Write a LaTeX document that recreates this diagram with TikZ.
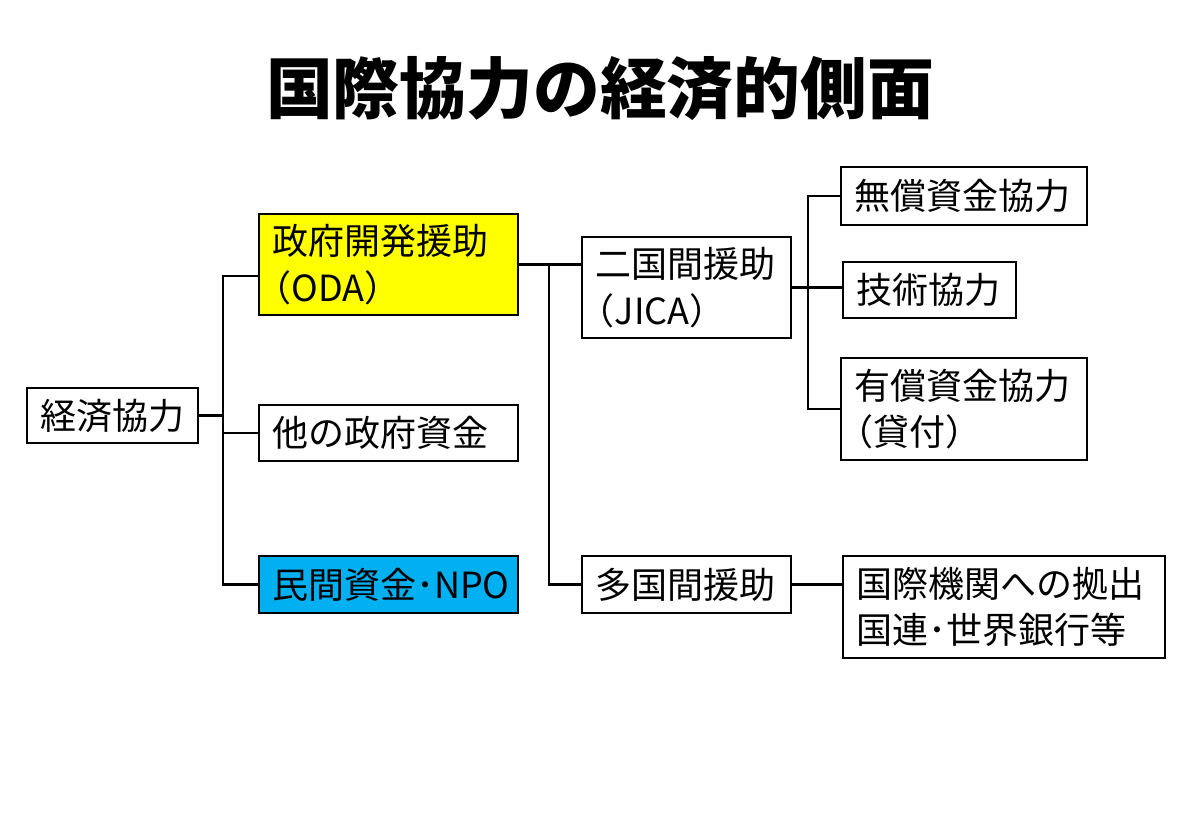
\documentclass[tikz,border=0pt]{standalone}
\usepackage{fontspec}
\setmainfont{Noto Sans CJK JP}
\usetikzlibrary{calc}
\definecolor{odayellow}{HTML}{FFFF00}
\definecolor{npoblue}{HTML}{00B0F0}
\newcommand{\lparen}{\hspace*{-0.45em}（}

\begin{document}
\begin{tikzpicture}
  [x=0.02cm,y=-0.02cm,line width=1.5pt,
   every node/.style={draw,rectangle,line width=1.5pt,inner xsep=0.26cm,inner ysep=0pt,align=left,
     font=\fontsize{20.5}{26.5}\selectfont}]

  \useasboundingbox (0,0) rectangle (1200,831);

  \node[draw=none,font=\fontsize{38}{40}\selectfont\bfseries] (title) at (600,88) {国際協力の経済的側面};

  \node[text width=2.90cm,minimum height=1.10cm] (ekon) at (112.5,415.5) {経済協力};

  \node[fill=odayellow,text width=4.66cm,minimum height=2.02cm] (oda) at (388.5,264.5) {政府開発援助\\\lparen ODA）};
  \node[text width=4.66cm,minimum height=1.12cm] (other) at (388.5,433) {他の政府資金};
  \node[fill=npoblue,text width=4.66cm,minimum height=1.14cm] (priv) at (388.5,584.5) {民間資金･NPO};

  \node[text width=3.66cm,minimum height=2.02cm] (bi) at (686.5,287.5) {二国間援助\\\lparen JICA）};
  \node[text width=3.66cm,minimum height=1.14cm] (multi) at (686.5,584.5) {多国間援助};

  \node[text width=4.40cm,minimum height=1.16cm] (grant) at (964,196) {無償資金協力};
  \node[text width=2.94cm,minimum height=1.12cm] (tech) at (929.5,290) {技術協力};
  \node[text width=4.40cm,minimum height=2.04cm] (loan) at (964,409) {有償資金協力\\\lparen 貸付）};
  \node[text width=5.92cm,minimum height=2.04cm] (intl) at (1004,607) {国際機関への拠出\\国連･世界銀行等};

  \coordinate (b1) at (223,415.5);
  \coordinate (b2) at (549,264.5);
  \coordinate (b3) at (808,287.5);

  % 経済協力 branches
  \draw (ekon.east) -- (b1);
  \draw ($(oda.west)+(0,11.5)$) -| (b1) |- (priv.west);
  \draw (b1 |- other.west) -- (other.west);

  % ODA branches
  \draw (oda.east) -- (oda.east -| bi.west);
  \draw (b2) |- (multi.west);

  % 二国間援助 branches
  \draw (bi.east) -- (bi.east -| tech.west);
  \draw (grant.west) -| (b3) |- (loan.west);

  \draw (multi.east) -- (multi.east -| intl.west);

\end{tikzpicture}
\end{document}
